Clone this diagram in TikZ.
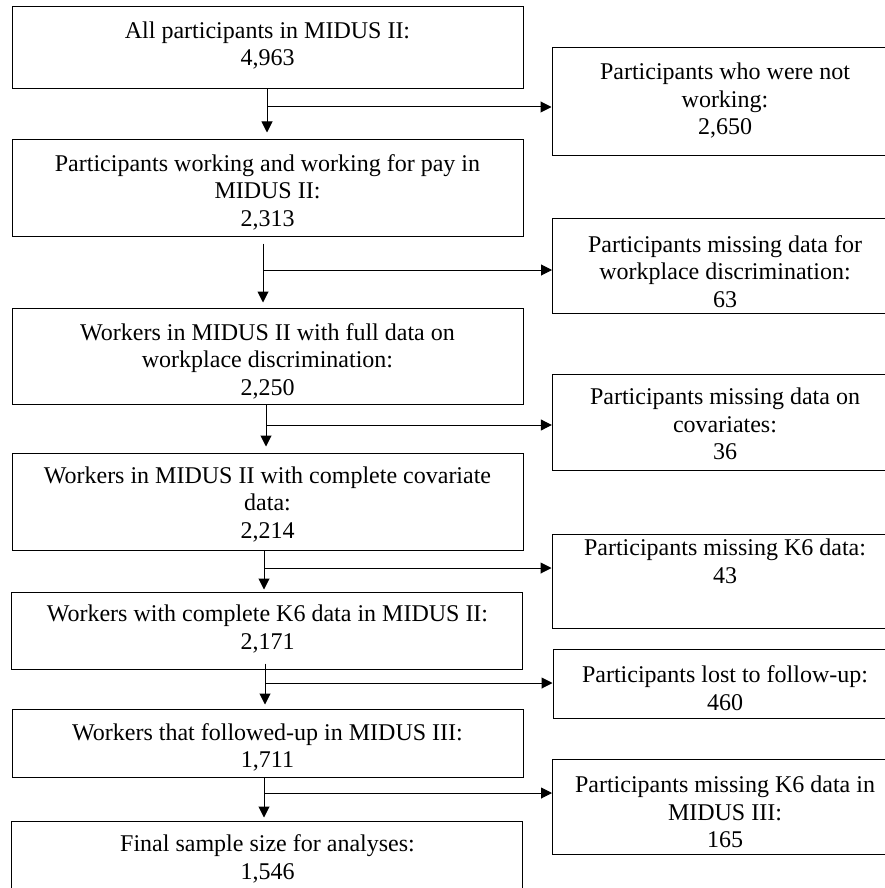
\documentclass[tikz,border=0pt]{standalone}
\usepackage{fontspec}
\setmainfont{Liberation Serif}
\usetikzlibrary{arrows.meta,calc}
\begin{document}
\begin{tikzpicture}[x=1pt,y=-1pt,
  box/.style={draw=black,line width=1pt,inner sep=0pt,minimum width=511pt},
  rbox/.style={draw=black,line width=1pt,inner sep=0pt,minimum width=346pt},
  txt/.style={inner sep=0pt,align=center,font=\fontsize{24}{27.5}\selectfont},
  arr/.style={draw=black,line width=1pt,-{Triangle[length=11pt,width=11pt]}},
  ln/.style={draw=black,line width=1pt}]
\useasboundingbox (0,0) rectangle (885,888);
\clip (0,0) rectangle (885,888);
\fill[white] (0,0) rectangle (885,888);
% left boxes
\node[box,minimum height=82pt] (b1) at (267.5,48) {};
\node[box,minimum height=97pt] (b2) at (267.5,187.5) {};
\node[box,minimum height=96pt] (b3) at (267.5,356) {};
\node[box,minimum height=97pt] (b4) at (267.5,501.5) {};
\node[box,minimum height=77pt] (b5) at (266.5,630.5) {};
\node[box,minimum height=68pt] (b6) at (267.5,743) {};
\node[box,minimum height=79pt] (b7) at (266.5,860.5) {};
% right boxes
\node[rbox,minimum height=107pt] (r1) at (725,101.5) {};
\node[rbox,minimum height=95pt] (r2) at (725.5,265.5) {};
\node[rbox,minimum height=96pt] (r3) at (725.3,422) {};
\node[rbox,minimum height=94pt] (r4) at (725,581) {};
\node[rbox,minimum height=69pt] (r5) at (726,683.5) {};
\node[rbox,minimum height=95pt] (r6) at (725.5,806.5) {};
% texts
\node[txt] (t1) at (267.5,45.5) {All participants in MIDUS II:\\4,963};
\node[txt] (t2) at (267.5,192) {Participants working and working for pay in\\MIDUS II:\\2,313};
\node[txt] (t3) at (267.5,361) {Workers in MIDUS II with full data on\\workplace discrimination:\\2,250};
\node[txt] (t4) at (267.5,504.5) {Workers in MIDUS II with complete covariate\\data:\\2,214};
\node[txt] (t5) at (267.5,629) {Workers with complete K6 data in MIDUS II:\\2,171};
\node[txt] (t6) at (267.5,747.5) {Workers that followed-up in MIDUS III:\\1,711};
\node[txt] (t7) at (267.5,859) {Final sample size for analyses:\\1,546};
\node[txt] (s1) at (725,101) {Participants who were not\\working:\\2,650};
\node[txt] (s2) at (725,271.5) {Participants missing data for\\workplace discrimination:\\63};
\node[txt] (s3) at (725,424) {Participants missing data on\\covariates:\\36};
\node[txt] (s4) at (725,561.5) {Participants missing K6 data:\\43};
\node[txt] (s5) at (725,688) {Participants lost to follow-up:\\460};
\node[txt] (s6) at (725,812) {Participants missing K6 data in\\MIDUS III:\\165};
% junctions
\coordinate (j1) at (267,107);
\coordinate (j2) at (263,270);
\coordinate (j3) at (266,425);
\coordinate (j4) at (264,568);
\coordinate (j5) at (265,683);
\coordinate (j6) at (264,793);
% vertical arrows
\draw[arr,shorten >=6pt] (b1.south -| j1) -- (b2.north -| j1);
\draw[arr,shorten <=7pt,shorten >=5pt] (b2.south -| j2) -- (b3.north -| j2);
\draw[arr,shorten >=6pt] (b3.south -| j3) -- (b4.north -| j3);
\draw[arr,shorten >=2pt] (b4.south -| j4) -- (b5.north -| j4);
\draw[arr,shorten <=-6pt,shorten >=4pt] (b5.south -| j5) -- (b6.north -| j5);
\draw[arr,shorten >=3pt] (b6.south -| j6) -- (b7.north -| j6);
% horizontal arrows
\draw[arr] (j1) -- (j1 -| r1.west);
\draw[arr] (j2) -- (j2 -| r2.west);
\draw[arr] (j3) -- (j3 -| r3.west);
\draw[arr] (j4) -- (j4 -| r4.west);
\draw[arr] (j5) -- (j5 -| r5.west);
\draw[arr] (j6) -- (j6 -| r6.west);
\end{tikzpicture}
\end{document}
